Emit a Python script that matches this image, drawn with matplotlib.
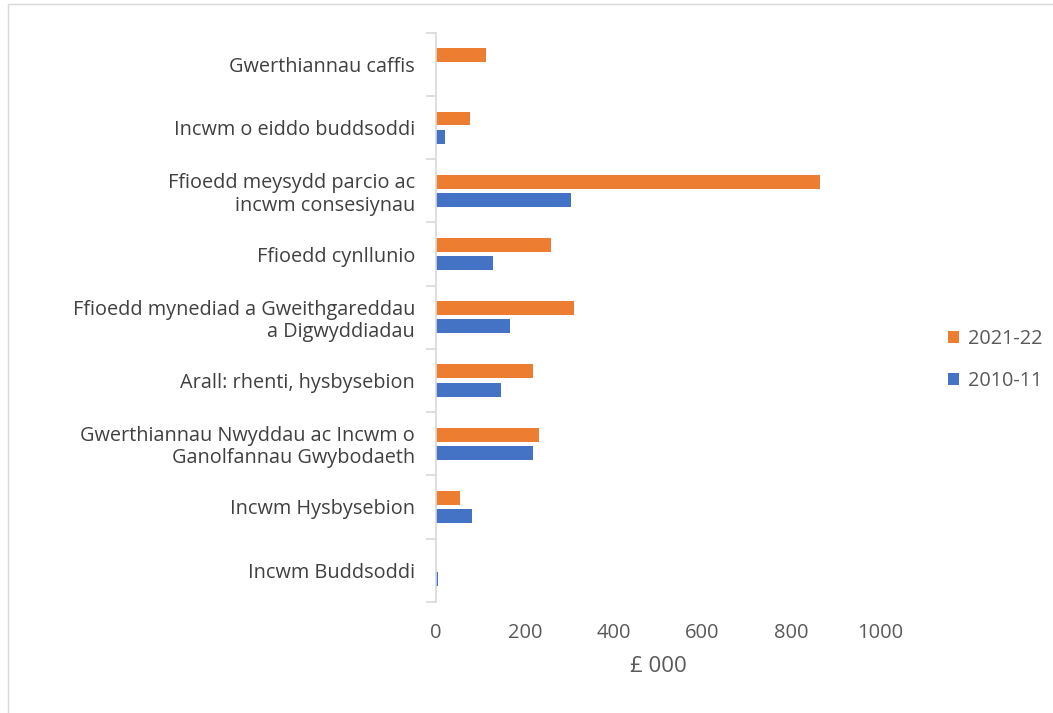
import numpy as np
import matplotlib.pyplot as plt
from matplotlib.patches import Rectangle

plt.rcParams['font.family'] = ['Open Sans', 'DejaVu Sans']

# Categories, top to bottom as shown
categories = [
    'Gwerthiannau caffis',
    'Incwm o eiddo buddsoddi',
    'Ffioedd meysydd parcio ac\nincwm consesiynau',
    'Ffioedd cynllunio',
    'Ffioedd mynediad a Gweithgareddau\na Digwyddiadau',
    'Arall: rhenti, hysbysebion',
    'Gwerthiannau Nwyddau ac Incwm o\nGanolfannau Gwybodaeth',
    'Incwm Hysbysebion',
    'Incwm Buddsoddi',
]
values_2021 = [112, 77, 864, 258, 311, 218, 233, 55, 0]
values_2010 = [0, 21, 304, 128, 166, 147, 219, 82, 5]

orange = '#ED7D31'
blue = '#4472C4'

fig = plt.figure(figsize=(10.53, 7.13), dpi=100)
ax = fig.add_axes([0.414, 0.156, 0.4217, 0.798])

n = len(categories)
y = np.arange(n)[::-1]
h = 0.22
off = 0.145
ax.barh(y + off, values_2021, height=h, color=orange, label='2021-22')
ax.barh(y - off, values_2010, height=h, color=blue, label='2010-11')

ax.set_xlim(0, 1000)
ax.set_ylim(-0.5, n - 0.5)
ax.set_xticks(np.arange(0, 1001, 200))
ax.tick_params(axis='x', length=0, pad=15, labelsize=14.5, labelcolor='#595959')
ax.set_xlabel('£ 000', fontsize=16, color='#595959', labelpad=10)

ax.set_yticks(y)
ax.set_yticklabels(categories, fontsize=14.3, color='#404040', linespacing=1.15)
ax.set_yticks(np.arange(-0.5, n, 1), minor=True)
ax.tick_params(axis='y', which='major', length=0, pad=15)
ax.tick_params(axis='y', which='minor', length=7, color='#D9D9D9', width=1.2)

for s in ['top', 'right', 'bottom']:
    ax.spines[s].set_visible(False)
ax.spines['left'].set_color('#D9D9D9')
ax.spines['left'].set_linewidth(1.2)

leg = fig.legend(loc='center left', bbox_to_anchor=(0.883, 0.495), frameon=False,
                 fontsize=14.3, handlelength=0.55, handleheight=0.55, handletextpad=0.45,
                 labelspacing=1.15, labelcolor='#595959')

fig.patches.append(Rectangle((0.008, -0.01), 1.5, 1.004, transform=fig.transFigure,
                             fill=False, edgecolor='#D9D9D9', linewidth=1))

fig.savefig('out.png', dpi=100)
